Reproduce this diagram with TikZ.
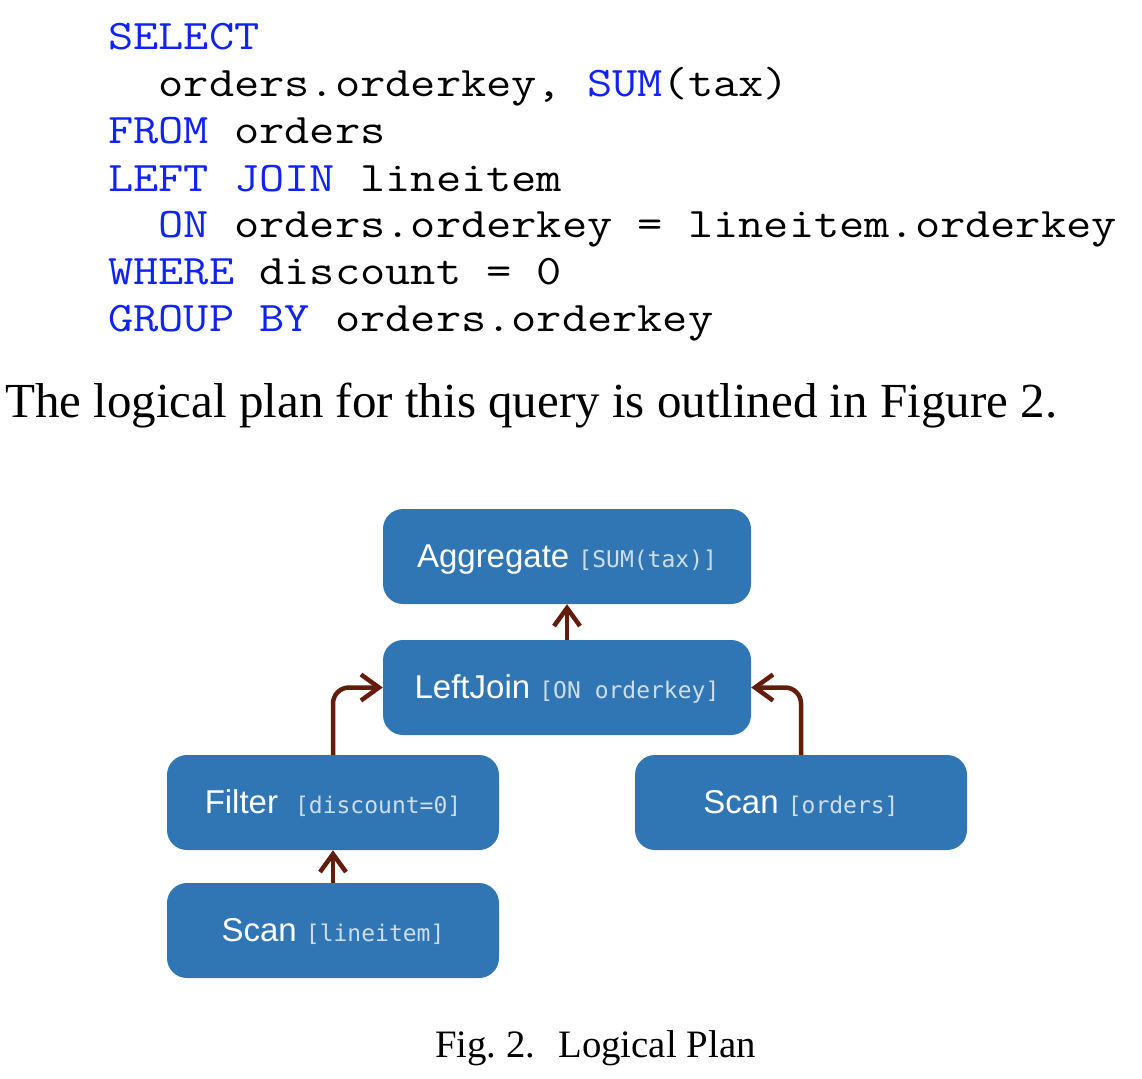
\documentclass[tikz,border=0pt]{standalone}
\usepackage{fontspec}
\setmainfont{Liberation Serif}
\newfontfamily\codefont[FakeStretch=1.163]{Latin Modern Mono}
\newfontfamily\boxfont{Liberation Sans}
\newfontfamily\labfont{DejaVu Sans Mono}
\usetikzlibrary{arrows.meta}
\definecolor{kwblue}{RGB}{15,35,245}
\definecolor{boxblue}{RGB}{49,118,180}
\definecolor{arrbrown}{RGB}{100,28,12}
\definecolor{labcol}{RGB}{205,222,240}
\newcommand\kwd[1]{{\color{kwblue}#1}}
\newcommand\oplab[1]{{\labfont\fontsize{23}{26}\selectfont\color{labcol}#1}}
\begin{document}
\begin{tikzpicture}[x=1pt,y=-1pt,
  codeline/.style={anchor=base west, inner sep=0pt, font=\codefont\fontsize{42.1}{47}\selectfont},
  prose/.style={anchor=base west, inner sep=0pt},
  opbox/.style={fill=boxblue, rounded corners=20pt, minimum height=95pt, inner sep=0pt,
    text=white, font=\boxfont\fontsize{33}{38}\selectfont, text height=22pt, text depth=0pt},
  flow/.style={draw=arrbrown, line width=4.5pt, rounded corners=16pt,
    -{Straight Barb[length=18pt,width=26pt]}}
]
\useasboundingbox (0,0) rectangle (1142,1078);

% SQL code
\node[codeline] (c1) at (108,50)  {\kwd{SELECT}};
\node[codeline] (c2) at (108,97)  {\ \ orders.orderkey, \kwd{SUM}(tax)};
\node[codeline] (c3) at (108,144) {\kwd{FROM} orders};
\node[codeline] (c4) at (108,191) {\kwd{LEFT JOIN} lineitem};
\node[codeline] (c5) at (108,237) {\ \ \kwd{ON} orders.orderkey = lineitem.orderkey};
\node[codeline] (c6) at (108,284) {\kwd{WHERE} discount = 0};
\node[codeline] (c7) at (108,331) {\kwd{GROUP BY} orders.orderkey};

% prose
\node[prose, font=\fontsize{49}{56}\selectfont] (txt) at (5,417)
  {The logical plan for this query is outlined in Figure 2.};

% plan boxes
\node[opbox, minimum width=368pt] (agg)  at (567,556.5) {Aggregate \oplab{[SUM(tax)]}};
\node[opbox, minimum width=368pt] (lj)   at (567,687.5) {LeftJoin \oplab{[ON orderkey]}};
\node[opbox, minimum width=332pt] (filt) at (333,802.5) {Filter\hspace{17pt}\oplab{[discount=0]}};
\node[opbox, minimum width=332pt] (sco)  at (801,802.5) {Scan \oplab{[orders]}};
\node[opbox, minimum width=332pt] (scl)  at (333,930.5) {Scan \oplab{[lineitem]}};

% connectors
\draw[flow] (lj.north) -- (agg.south);
\draw[flow] (scl.north) -- (filt.south);
\draw[flow] (filt.north) |- (lj.west);
\draw[flow] (sco.north) |- (lj.east);

% caption
\node[prose, font=\fontsize{38.8}{44}\selectfont] (cap) at (435,1057)
  {Fig.\ 2.\hspace{23pt}Logical Plan};
\end{tikzpicture}
\end{document}
